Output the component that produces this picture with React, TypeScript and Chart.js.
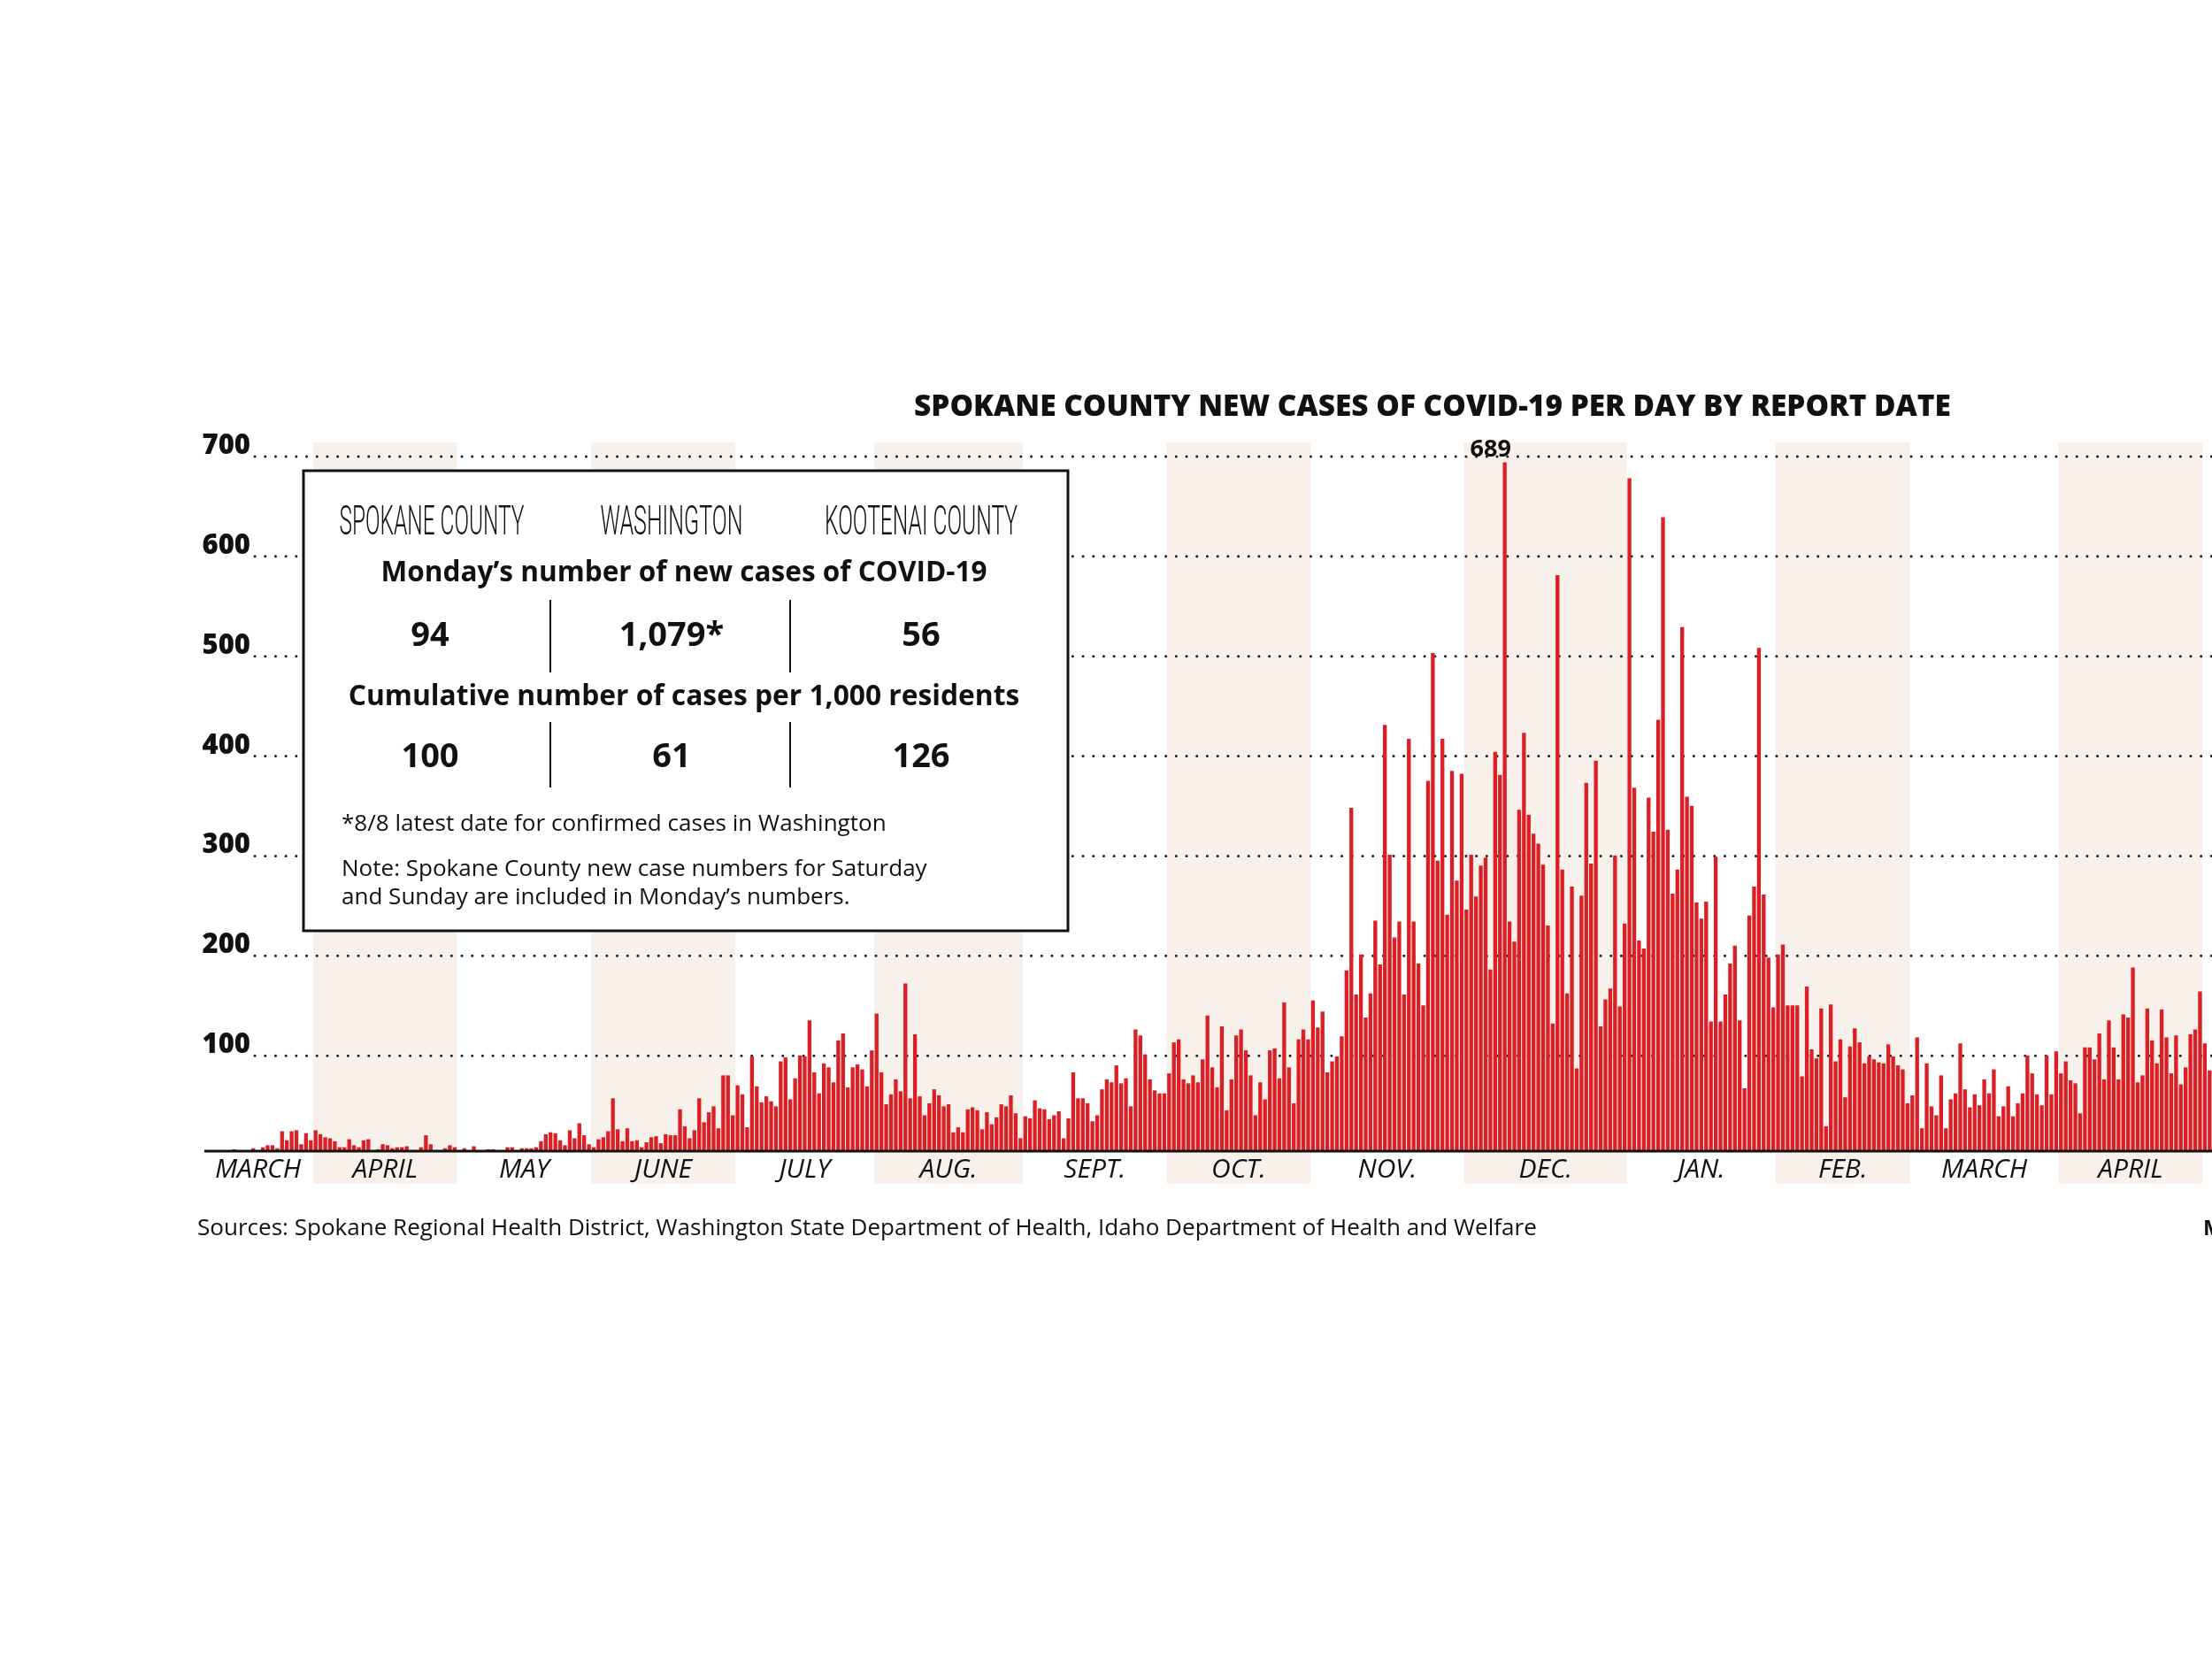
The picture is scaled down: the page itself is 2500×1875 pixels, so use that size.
import React, { useEffect, useRef } from "react";
import { Chart, registerables } from "chart.js";
Chart.register(...registerables);

const mar20 = [0,0,0,0,0,0,0,0,0,0,0,0,0,0,1,0,0,0,2,0,3,5,5,2,19,10,19,20,6,17,10];
const apr20 = [20,16,13,12,9,3,3,11,5,3,10,11,0,1,6,5,2,3,3,4,0,0,3,15,6,0,0,2,5,3];
const may20 = [0,2,0,4,0,0,1,1,0,0,3,3,0,2,2,2,3,9,16,18,17,10,5,20,12,27,15,6];
const jun20 = [3,11,13,19,52,21,9,22,9,10,3,8,13,14,7,16,15,15,41,24,12,20,52,28,38,44,22,75,75,35];
const jul20 = [65,56,23,94,64,48,54,49,44,89,93,51,72,95,94,130,78,57,87,83,68,110,117,63,83,86,81,64,100];
const aug20 = [137,78,46,56,71,59,167,52,116,54,35,47,61,55,44,46,18,23,18,41,43,40,21,38,26,33,46,44,55,37,12];
const sep20 = [34,32,50,42,41,31,35,39,12,32,78,52,52,47,29,35,61,71,68,85,67,72,44,121,115,96,71,60,57,57];
const oct20 = [77,108,111,71,67,75,68,91,135,83,63,124,40,71,115,121,100,75,35,68,51,100,102,72,148,83,47,111,121,111];
const nov20 = [150,123,139,78,89,94,114,180,343,156,196,133,157,230,186,426,296,213,229,156,412,229,187,145,370,498,290,412,236,380,270,377];
const dec20 = [241,296,254,285,293,181,399,376,689,229,209,341,418,336,317,307,286,225,127,576,281,157,264,82,255,368,287,390,124,151,162,295,144,227];
const jan21 = [673,363,210,202,353,319,431,634,321,257,281,524,354,345,248,232,249,129,294,129,156,187,205,130,62,235,264,503,256,193,143];
const feb21 = [196,206,145,145,145,74,164,101,92,142,24,146,89,111,53,104,122,108,87,94,91,88,87,106,94,85,81,47];
const mar21 = [55,113,22,87,44,35,75,22,51,57,107,61,43,56,45,71,57,81,34,44,64,34,47,57,95,77,56,45,95,56,99];
const apr21 = [77,89,70,67,37,103,103,91,117,71,130,103,71,136,133,183,68,75,142,110,87,141,113,77,115,66,83,116,121,159];
const may21 = [107,80];

const monthNames = ["MARCH","APRIL","MAY","JUNE","JULY","AUG.","SEPT.","OCT.","NOV.","DEC.","JAN.","FEB.","MARCH","APRIL","MAY"];
const monthData = [mar20,apr20,may20,jun20,jul20,aug20,sep20,oct20,nov20,dec20,jan21,feb21,mar21,apr21,may21];
const shadedMonths = [1,3,5,7,9,11,13];
const yTicks = [100,200,300,400,500,600,700];

const title = "SPOKANE COUNTY NEW CASES OF COVID-19 PER DAY BY REPORT DATE";
const boxHeaders = ["SPOKANE COUNTY","WASHINGTON","KOOTENAI COUNTY"];
const row1Title = "Monday\u2019s number of new cases of COVID-19";
const row1Vals = ["94","1,079*","56"];
const row2Title = "Cumulative number of cases per 1,000 residents";
const row2Vals = ["100","61","126"];
const footnote1 = "*8/8 latest date for confirmed cases in Washington";
const footnote2 = "Note: Spokane County new case numbers for Saturday";
const footnote3 = "and Sunday are included in Monday\u2019s numbers.";
const sources = "Sources: Spokane Regional Health District, Washington State Department of Health, Idaho Department of Health and Welfare";
const credit = "MOLLY QUINN/THE SPOKESMAN-REVIEW";

const values: number[] = ([] as number[]).concat(...monthData);
const labels = values.map((_, i) => String(i));

const SANS = "'Open Sans', 'Noto Sans', sans-serif";
const COND = "'Roboto', 'Open Sans', sans-serif";

function fitText(ctx: CanvasRenderingContext2D, text: string, weight: string, family: string, size: number, target: number | null, style = "normal") {
  ctx.font = `${style} ${weight} ${size}px ${family}`;
  if (target) {
    const w = ctx.measureText(text).width;
    let s = size * target / w;
    s = Math.max(size * 0.7, Math.min(size * 1.3, s));
    ctx.font = `${style} ${weight} ${s}px ${family}`;
  }
}

function condensedText(ctx: CanvasRenderingContext2D, text: string, cx: number, by: number, size: number, target: number) {
  ctx.font = `300 ${size}px ${COND}`;
  const w = ctx.measureText(text).width;
  const sx = target / w;
  ctx.save();
  ctx.translate(cx, by);
  ctx.scale(sx, 1);
  ctx.textAlign = "center";
  ctx.fillText(text, 0, 0);
  ctx.restore();
}

const deco = {
  id: "deco",
  beforeDatasetsDraw(chart: any) {
    const ctx = chart.ctx as CanvasRenderingContext2D;
    const x = chart.scales.x, y = chart.scales.y;
    const ca = chart.chartArea;
    const w = (ca.right - ca.left) / values.length;
    ctx.save();
    let start = 0;
    monthData.forEach((m, i) => {
      if (shadedMonths.includes(i)) {
        const a = x.getPixelForValue(start) - w / 2;
        const b = x.getPixelForValue(start + m.length - 1) + w / 2;
        ctx.fillStyle = "#f8f0eb";
        ctx.fillRect(a, ca.top - 10, b - a, ca.bottom + 38 - (ca.top - 10));
      }
      start += m.length;
    });
    ctx.strokeStyle = "#222";
    ctx.lineWidth = 3;
    ctx.lineCap = "round";
    ctx.setLineDash([0.1, 11.6]);
    yTicks.forEach((t) => {
      const py = y.getPixelForValue(t);
      ctx.beginPath();
      ctx.moveTo(288, py + 6);
      ctx.lineTo(2500, py + 6);
      ctx.stroke();
    });
    ctx.restore();
  },
  afterDatasetsDraw(chart: any) {
    const ctx = chart.ctx as CanvasRenderingContext2D;
    const x = chart.scales.x, y = chart.scales.y;
    const ca = chart.chartArea;
    ctx.save();
    ctx.strokeStyle = "#111";
    ctx.lineWidth = 3;
    ctx.beginPath();
    ctx.moveTo(231, ca.bottom + 1);
    ctx.lineTo(2500, ca.bottom + 1);
    ctx.stroke();
    ctx.fillStyle = "#111";
    ctx.textAlign = "right";
    ctx.textBaseline = "alphabetic";
    ctx.font = `800 31px ${SANS}`;
    yTicks.forEach((t) => {
      ctx.fillText(String(t), 283, y.getPixelForValue(t) + 3);
    });
    let start = 0;
    ctx.textAlign = "center";
    ctx.textBaseline = "middle";
    monthData.forEach((m, i) => {
      const c = (x.getPixelForValue(start) + x.getPixelForValue(start + m.length - 1)) / 2;
      ctx.font = `italic 400 30px ${SANS}`;
      const tw = ctx.measureText(monthNames[i]).width;
      const cx = Math.max(c, 243 + tw / 2);
      if (m.length > 5) ctx.fillText(monthNames[i], cx, ca.bottom + 22);
      start += m.length;
    });
    let mi = 0;
    values.forEach((v, i) => { if (v > values[mi]) mi = i; });
    ctx.font = `bold 27px ${SANS}`;
    ctx.textBaseline = "alphabetic";
    ctx.fillText(String(values[mi]), x.getPixelForValue(mi) - 16, y.getPixelForValue(values[mi]) - 6);
    fitText(ctx, title, "800", SANS, 31, 1172);
    ctx.fillText(title, 1619, 470);
    ctx.textAlign = "left";
    fitText(ctx, sources, "normal", SANS, 24, 1514);
    ctx.fillText(sources, 223, 1396);
    ctx.font = `bold 24px ${SANS}`;
    ctx.fillText(credit, 2490, 1396);
    // box
    ctx.fillStyle = "#fff";
    ctx.fillRect(343, 532, 864, 520);
    ctx.strokeStyle = "#111";
    ctx.lineWidth = 3;
    ctx.strokeRect(343, 532, 864, 520);
    ctx.fillStyle = "#111";
    ctx.textAlign = "center";
    const cols = [488, 759, 1041];
    const hw = [209, 161, 218];
    boxHeaders.forEach((h, i) => condensedText(ctx, h, cols[i], 604, 46, hw[i]));
    fitText(ctx, row1Title, "bold", SANS, 30, 685);
    ctx.fillText(row1Title, 773, 657);
    row1Vals.forEach((v, i) => {
      ctx.font = `bold 38px ${SANS}`;
      ctx.fillText(v, cols[i] - (i === 0 ? 2 : 0), 730);
    });
    fitText(ctx, row2Title, "bold", SANS, 30, 759);
    ctx.fillText(row2Title, 773, 797);
    row2Vals.forEach((v, i) => {
      ctx.font = `bold 38px ${SANS}`;
      ctx.fillText(v, cols[i] - (i === 0 ? 2 : 0), 867);
    });
    ctx.lineWidth = 2;
    [622, 893].forEach((lx) => {
      ctx.beginPath(); ctx.moveTo(lx, 678); ctx.lineTo(lx, 760); ctx.stroke();
      ctx.beginPath(); ctx.moveTo(lx, 816); ctx.lineTo(lx, 890); ctx.stroke();
    });
    ctx.textAlign = "left";
    fitText(ctx, footnote1, "normal", SANS, 25, 616);
    ctx.fillText(footnote1, 386, 939);
    fitText(ctx, footnote2, "normal", SANS, 25, 662);
    ctx.fillText(footnote2, 386, 990);
    ctx.fillText(footnote3, 386, 1022);
    ctx.restore();
  },
};

export default function App() {
  const ref = useRef<HTMLCanvasElement>(null);
  useEffect(() => {
    if (!ref.current) return;
    const chart = new Chart(ref.current, {
      type: "bar",
      data: {
        labels,
        datasets: [{
          data: values,
          backgroundColor: "#db1f24",
          borderWidth: 0,
          barPercentage: 0.8,
          categoryPercentage: 1,
        }],
      },
      options: {
        responsive: false,
        animation: false,
        devicePixelRatio: 1,
        layout: { padding: { left: 186, right: 0, top: 510, bottom: 575 } },
        plugins: { legend: { display: false }, tooltip: { enabled: false } },
        scales: {
          x: { display: false },
          y: { display: false, min: 0, max: 700 },
        },
      },
      plugins: [deco],
    });
    return () => chart.destroy();
  }, []);
  return (
    <canvas ref={ref} width={2500} height={1875}
      style={{ position: "absolute", left: 0, top: 0, width: 2500, height: 1875, background: "#fff" }} />
  );
}
